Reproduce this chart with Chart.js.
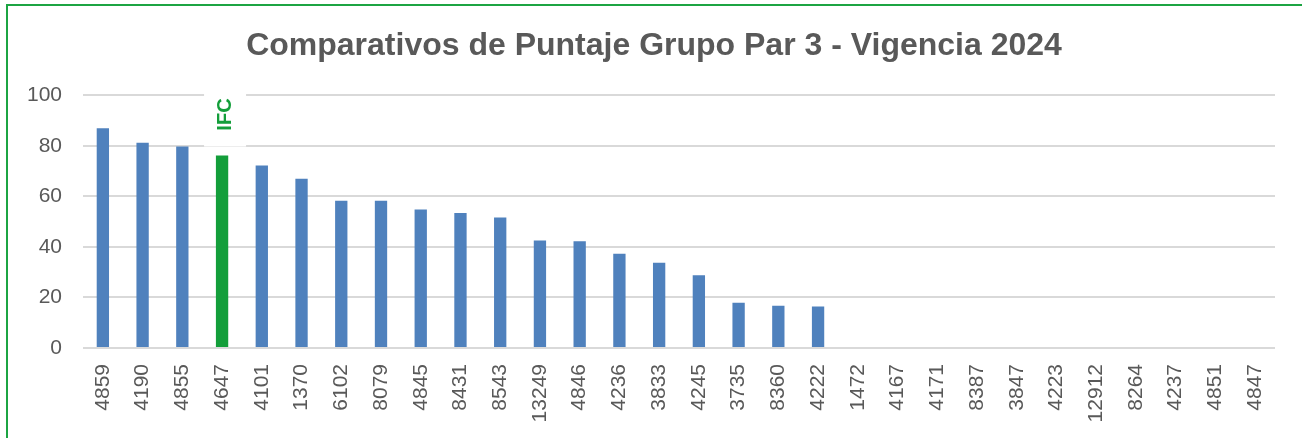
<!DOCTYPE html>
<html>
<head>
<meta charset="utf-8">
<script src="https://cdn.jsdelivr.net/npm/chart.js@4"></script>
<style>
  html, body { margin: 0; padding: 0; background: #fff; }
  body { width: 1302px; height: 438px; overflow: hidden; position: relative; }
  #frame { position: absolute; left: 6px; top: 4px; width: 1400px; height: 500px;
           border-left: 2px solid #1ca443; border-top: 2px solid #1ca443; box-sizing: border-box; }
  #wrap { position: absolute; left: 0; top: 0; width: 1302px; height: 438px; }
</style>
</head>
<body>
<div id="frame"></div>
<div id="wrap"><canvas id="c" width="1302" height="438"></canvas></div>
<script>
const titleText = "Comparativos de Puntaje Grupo Par 3 - Vigencia 2024";
const categories = ["4859","4190","4855","4647","4101","1370","6102","8079","4845","8431",
  "8543","13249","4846","4236","3833","4245","3735","8360","4222","1472",
  "4167","4171","8387","3847","4223","12912","8264","4237","4851","4847"];
const scores = [87, 81.3, 79.8, 76.2, 72.2, 67, 58.3, 58.3, 54.8, 53.4,
  51.7, 42.6, 42.3, 37.3, 33.7, 28.8, 17.9, 16.7, 16.4, null,
  null, null, null, null, null, null, null, null, null, null];
const yTicks = [0, 20, 40, 60, 80, 100];
const highlightCode = "4647";
const highlightLabel = "IFC";

const blue = "#4f81bd";
const green = "#139e3a";
const barColors = categories.map(c => c === highlightCode ? green : blue);

const ifcLabel = {
  id: "ifcLabel",
  afterDatasetsDraw(chart) {
    const idx = categories.indexOf(highlightCode);
    const bar = chart.getDatasetMeta(0).data[idx];
    if (!bar) return;
    const ctx = chart.ctx;
    ctx.save();
    const cx = bar.x + 3;
    const cy = bar.y - 41;
    ctx.fillStyle = "#ffffff";
    ctx.fillRect(cx - 21, cy - 30, 42, 62);
    ctx.translate(cx, cy);
    ctx.rotate(-Math.PI / 2);
    ctx.fillStyle = green;
    ctx.font = "bold 20px 'Liberation Sans', Arial, sans-serif";
    ctx.textAlign = "center";
    ctx.textBaseline = "middle";
    ctx.fillText(highlightLabel, 0, 0);
    ctx.restore();
  }
};

new Chart(document.getElementById("c"), {
  type: "bar",
  data: {
    labels: categories,
    datasets: [{
      data: scores,
      backgroundColor: barColors,
      borderWidth: 0,
      categoryPercentage: 1,
      barPercentage: 0.31
    }]
  },
  options: {
    responsive: false,
    animation: false,
    layout: { padding: { left: 6, right: 0, top: 0, bottom: 0 } },
    plugins: {
      legend: { display: false },
      tooltip: { enabled: false },
      title: {
        display: true,
        text: titleText,
        color: "#595959",
        font: { family: "'Liberation Sans', Arial, sans-serif", size: 32, weight: "bold" },
        padding: { top: 27, bottom: 30 }
      }
    },
    scales: {
      x: {
        grid: { display: false, drawTicks: false },
        border: { display: false },
        ticks: {
          color: "#595959",
          font: { family: "'Liberation Sans', Arial, sans-serif", size: 21 },
          minRotation: 90, maxRotation: 90,
          padding: 16,
          autoSkip: false
        },
        afterFit(s) { s.height = 90; }
      },
      y: {
        min: 0, max: 100,
        afterBuildTicks(s) { s.ticks = yTicks.map(v => ({ value: v })); },
        grid: { color: "#d9d9d9", lineWidth: 2, drawTicks: false },
        border: { display: false },
        ticks: {
          color: "#595959",
          font: { family: "'Liberation Sans', Arial, sans-serif", size: 21 },
          padding: 21
        },
        afterFit(s) { s.width = 77; }
      },
      yRight: {
        position: "right",
        min: 0, max: 100,
        grid: { display: false, drawTicks: false },
        border: { display: false },
        ticks: { display: false },
        afterFit(s) { s.width = 27; }
      }
    }
  },
  plugins: [ifcLabel]
});
</script>
</body>
</html>
